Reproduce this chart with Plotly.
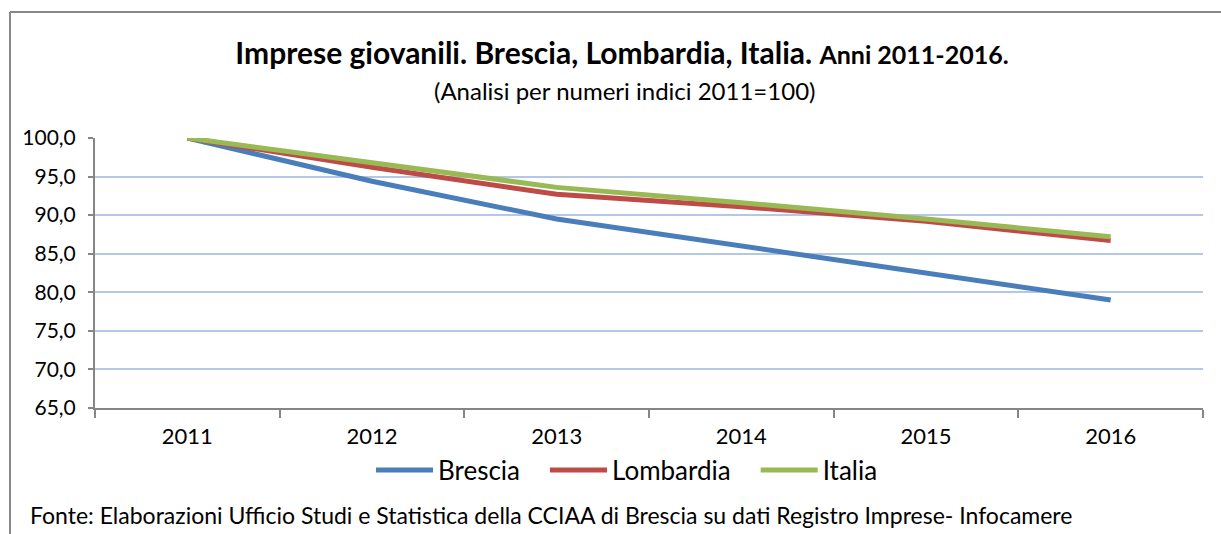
import plotly.graph_objects as go

years = ["2011", "2012", "2013", "2014", "2015", "2016"]
brescia = [100.0, 94.4, 89.5, 86.0, 82.6, 79.0]
lombardia = [100.0, 96.2, 92.7, 91.1, 89.2, 86.7]
italia = [100.0, 96.8, 93.6, 91.6, 89.5, 87.2]
y_ticks = [65, 70, 75, 80, 85, 90, 95, 100]

FONT = "Lato"
L, R, T, B = 95, 18, 138, 126
W, H = 1221, 534
PW, PH = W - L - R, H - T - B

def px_x(x):
    return (x - L) / PW

def px_y(y):
    return (H - B - y) / PH

NB = "\u00a0"
fig = go.Figure()
for name, vals, col in [("Brescia" + NB * 3, brescia, "#4a7ebb"),
                        ("Lombardia" + NB * 3, lombardia, "#be4b48"),
                        ("Italia", italia, "#98b954")]:
    fig.add_trace(go.Scatter(x=years, y=vals, mode="lines", name=name,
                             line=dict(color=col, width=5)))

fig.update_layout(
    width=W, height=H,
    margin=dict(l=L, r=R, t=T, b=B),
    paper_bgcolor="white", plot_bgcolor="white",
    separators=",.",
    font=dict(family=FONT, color="black", size=22),
    title=dict(
        text="<b>Imprese giovanili. Brescia, Lombardia, Italia. <span style='font-size:25px'>Anni 2011-2016.</span></b>",
        x=622 / W, xanchor="center", y=1 - 53 / H, yanchor="middle",
        font=dict(family=FONT, size=30, color="black")),
    showlegend=True,
    legend=dict(orientation="h", x=px_x(627), xanchor="center",
                y=px_y(470), yanchor="middle",
                font=dict(family=FONT, size=26, color="black"),
                itemwidth=57, tracegroupgap=0, bgcolor="rgba(0,0,0,0)"),
)

fig.update_xaxes(type="category", showgrid=False, showline=True,
                 linecolor="#868686", linewidth=2, ticks="outside",
                 tickson="boundaries", ticklen=8, tickcolor="#868686",
                 tickwidth=2, tickfont=dict(family=FONT, size=22, color="black"),
                 ticklabelstandoff=8, range=[-0.5, 5.5])
fig.update_yaxes(range=[65, 100], tickvals=y_ticks, tickformat=".1f",
                 showgrid=True, gridcolor="#b4c7e7", gridwidth=2,
                 showline=True, linecolor="#868686", linewidth=2,
                 ticks="outside", ticklen=5, tickcolor="#868686", tickwidth=2,
                 tickfont=dict(family=FONT, size=21, color="black"),
                 ticklabelstandoff=8, zeroline=False)

fig.add_annotation(text="(Analisi per numeri indici 2011=100)",
                   xref="paper", yref="paper", x=px_x(624), y=px_y(90),
                   xanchor="center", yanchor="middle", showarrow=False,
                   font=dict(family=FONT, size=24, color="black"))
fig.add_annotation(text="Fonte: Elaborazioni Ufficio Studi e Statistica della CCIAA di Brescia su dati Registro Imprese- Infocamere",
                   xref="paper", yref="paper", x=px_x(28), y=px_y(515),
                   xanchor="left", yanchor="middle", showarrow=False,
                   font=dict(family=FONT, size=23, color="black"))

# outer frame (top and left edges)
fig.add_shape(type="line", xref="paper", yref="paper",
              x0=px_x(10), x1=px_x(W + 5), y0=px_y(12), y1=px_y(12),
              line=dict(color="#888888", width=2))
fig.add_shape(type="line", xref="paper", yref="paper",
              x0=px_x(10), x1=px_x(10), y0=px_y(12), y1=px_y(H + 5),
              line=dict(color="#888888", width=2))

fig.write_html("out.html", config={"displayModeBar": False},
               post_script="document.body.style.margin='0';document.body.style.overflow='hidden';")
